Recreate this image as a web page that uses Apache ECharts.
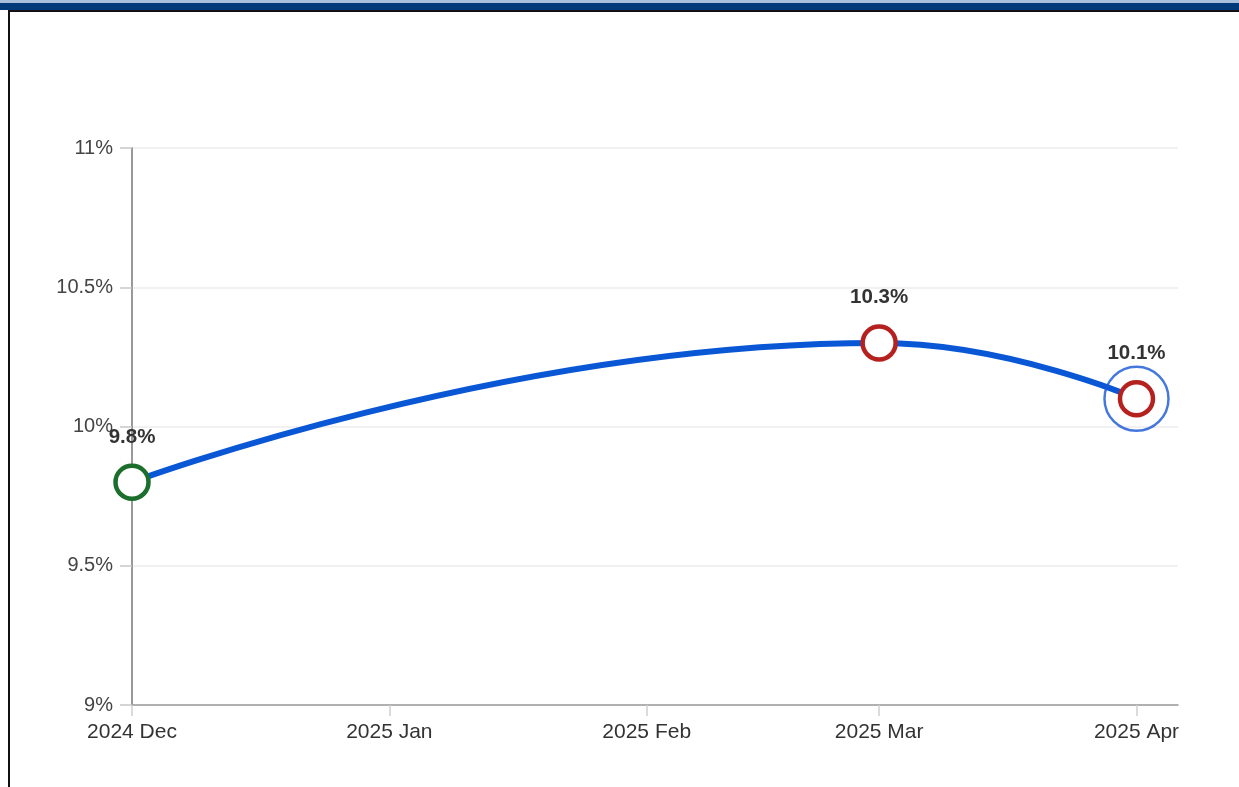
<!DOCTYPE html>
<html>
<head>
<meta charset="utf-8">
<script src="https://cdn.jsdelivr.net/npm/echarts@6/dist/echarts.min.js"></script>
<style>
html,body{margin:0;padding:0;background:#fff;width:1239px;height:787px;overflow:hidden;}
#topbar{position:absolute;left:0;top:0;width:1239px;height:3px;background:#a9c0dc;}
#navy{position:absolute;left:0;top:3px;width:1239px;height:7px;background:#003a78;}
#blackline{position:absolute;left:8px;top:10px;width:1231px;height:2px;background:#111;}
#leftline{position:absolute;left:8px;top:10px;width:2px;height:777px;background:#111;}
#chart{position:absolute;left:0;top:0;width:1239px;height:787px;}
</style>
</head>
<body>
<div id="chart"></div>
<div id="topbar"></div>
<div id="navy"></div>
<div id="blackline"></div>
<div id="leftline"></div>
<script>
// Data
const dates = ['2024-12-01', '2025-03-01', '2025-04-01'];
const values = [9.8, 10.3, 10.1];
const markerColors = ['#1b6e2c', '#b5211f', '#b5211f'];
const monthAbbr = ['Jan','Feb','Mar','Apr','May','Jun','Jul','Aug','Sep','Oct','Nov','Dec'];
const yTicks = [9, 9.5, 10, 10.5, 11];
const xMin = '2024-12-01';
const xMax = '2025-04-06';
const highlightDate = '2025-04-01';
const highlightValue = 10.1;

const FONT = "'Liberation Sans', Arial, sans-serif";
const chart = echarts.init(document.getElementById('chart'));

const lineData = dates.map((d, i) => ({
  value: [d, values[i]],
  itemStyle: { color: '#ffffff', borderColor: markerColors[i], borderWidth: 4.5 }
}));

chart.setOption({
  animation: false,
  grid: { left: 132, right: 61, top: 148, bottom: 82, containLabel: false },
  xAxis: {
    type: 'time',
    min: xMin,
    max: xMax,
    splitNumber: 4,
    axisLine: { show: true, lineStyle: { color: '#9a9a9a', width: 1.5 } },
    axisTick: { show: true, length: 11, lineStyle: { color: '#cfcfcf', width: 1.5 } },
    splitLine: { show: false },
    axisLabel: {
      margin: 17,
      color: '#333',
      fontSize: 21,
      fontFamily: FONT,
      formatter: function (val) {
        const d = new Date(val);
        return d.getFullYear() + ' ' + monthAbbr[d.getMonth()];
      }
    }
  },
  yAxis: {
    type: 'value',
    min: yTicks[0],
    max: yTicks[yTicks.length - 1],
    interval: 0.5,
    axisLine: { show: true, lineStyle: { color: '#777', width: 1.5 } },
    axisTick: { show: true, length: 12, lineStyle: { color: '#c8c8c8', width: 1.5 } },
    splitLine: { show: true, lineStyle: { color: '#ececec', width: 1.5 } },
    axisLabel: {
      margin: 19,
      color: '#444',
      fontSize: 20,
      fontFamily: FONT,
      formatter: function (v) { return v + '%'; }
    }
  },
  series: [
    {
      type: 'line',
      data: lineData,
      smooth: 0.5,
      symbol: 'circle',
      symbolSize: 33,
      lineStyle: { color: '#0a57d6', width: 6 },
      label: {
        show: true,
        position: 'top',
        distance: 16,
        color: '#333',
        fontSize: 20.5,
        fontWeight: 'bold',
        fontFamily: FONT,
        formatter: function (p) { return p.value[1] + '%'; }
      },
      z: 3
    },
    {
      type: 'scatter',
      data: [[highlightDate, highlightValue]],
      symbol: 'circle',
      symbolSize: 64,
      itemStyle: { color: 'rgba(0,0,0,0)', borderColor: '#1656d6', borderWidth: 2.5 },
      silent: true,
      z: 4
    }
  ]
});
</script>
</body>
</html>
